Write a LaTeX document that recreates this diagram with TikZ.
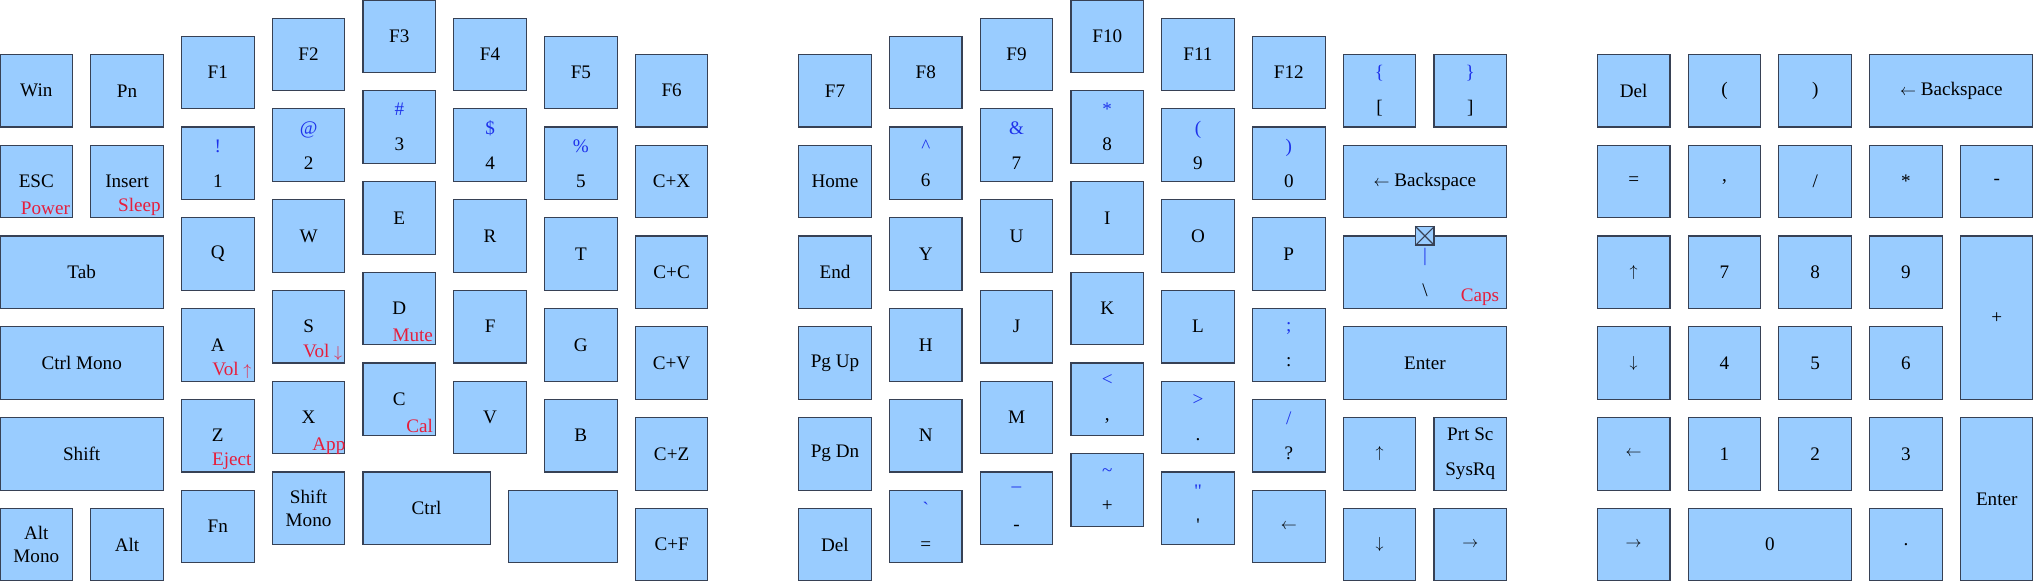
\documentclass[tikz,border=0pt]{standalone}
\usepackage{fontspec}
\setmainfont{Liberation Serif}
\definecolor{keyfill}{RGB}{153,204,255}
\definecolor{keyedge}{RGB}{55,65,85}
\definecolor{shiftblue}{RGB}{30,50,235}
\definecolor{fnred}{RGB}{230,30,60}
\newcommand{\upkey}[1]{\textcolor{shiftblue}{#1}}
\newcommand{\keyarrow}[1]{{\fontsize{10}{12}\selectfont$#1$}}

\begin{document}
\begin{tikzpicture}
		[x=2cm, y=-2cm,
		key/.style ={rectangle, draw=keyedge, line width=0.7pt, fill=keyfill, minimum width=1.6cm, minimum height=1.6cm, inner sep=0pt, outer sep=0pt, align=center, font=\fontsize{12}{14.4}\selectfont},
		widekey/.style = {key, minimum width=3.6cm},
		ctrlkey/.style = {key, minimum width=2.8cm},
		spacekey/.style = {key, minimum width=2.4cm},
		tallkey/.style = {key, minimum height=3.6cm},
		fnlabel/.style = {anchor=south east, inner sep=1.5pt, text=fnred, font=\fontsize{12}{14.4}\selectfont},
		markbox/.style = {rectangle, draw=keyedge, line width=0.7pt, fill=keyfill, minimum size=0.4cm, inner sep=0pt},
		]
		\useasboundingbox (0,0) rectangle (22.4,6.4);

		% left half
		\draw (0.4,1.0) node[key] (Win) {Win};
		\draw (1.4,1.0) node[key] (Pn) {Pn};
		\draw (0.4,2.0) node[key] (Esc) {ESC};
		\draw (1.4,2.0) node[key] (Insert) {Insert};
		\draw (0.9,3.0) node[widekey] (Tab) {Tab};
		\draw (0.9,4.0) node[widekey] (CtrlMono) {Ctrl Mono};
		\draw (0.9,5.0) node[widekey] (LShift) {Shift};
		\draw (0.4,6.0) node[key] (AltMono) {Alt\\Mono};
		\draw (1.4,6.0) node[key] (LAlt) {Alt};

		\draw (2.4,0.8) node[key] (F1) {F1};
		\draw (2.4,1.8) node[key] (K1) {\upkey{!}\\[7.5pt]1};
		\draw (2.4,2.8) node[key] (Q) {Q};
		\draw (2.4,3.8) node[key] (A) {A};
		\draw (2.4,4.8) node[key] (Z) {Z};
		\draw (2.4,5.8) node[key] (Fn) {Fn};

		\draw (3.4,0.6) node[key] (F2) {F2};
		\draw (3.4,1.6) node[key] (K2) {\upkey{@}\\[7.5pt]2};
		\draw (3.4,2.6) node[key] (W) {W};
		\draw (3.4,3.6) node[key] (S) {S};
		\draw (3.4,4.6) node[key] (X) {X};
		\draw (3.4,5.6) node[key] (ShiftMono) {Shift\\Mono};

		\draw (4.4,0.4) node[key] (F3) {F3};
		\draw (4.4,1.4) node[key] (K3) {\upkey{\#}\\[7.5pt]3};
		\draw (4.4,2.4) node[key] (E) {E};
		\draw (4.4,3.4) node[key] (D) {D};
		\draw (4.4,4.4) node[key] (C) {C};
		\draw (4.7,5.6) node[ctrlkey] (LCtrl) {Ctrl};

		\draw (5.4,0.6) node[key] (F4) {F4};
		\draw (5.4,1.6) node[key] (K4) {\upkey{\$}\\[7.5pt]4};
		\draw (5.4,2.6) node[key] (R) {R};
		\draw (5.4,3.6) node[key] (F) {F};
		\draw (5.4,4.6) node[key] (V) {V};

		\draw (6.4,0.8) node[key] (F5) {F5};
		\draw (6.4,1.8) node[key] (K5) {\upkey{\%}\\[7.5pt]5};
		\draw (6.4,2.8) node[key] (T) {T};
		\draw (6.4,3.8) node[key] (G) {G};
		\draw (6.4,4.8) node[key] (B) {B};
		\draw (6.2,5.8) node[spacekey] (Blank) {};

		\draw (7.4,1.0) node[key] (F6) {F6};
		\draw (7.4,2.0) node[key] (CX) {C+X};
		\draw (7.4,3.0) node[key] (CC) {C+C};
		\draw (7.4,4.0) node[key] (CV) {C+V};
		\draw (7.4,5.0) node[key] (CZ) {C+Z};
		\draw (7.4,6.0) node[key] (CF) {C+F};

		\draw (Esc.south east) node[fnlabel] (Power) {Power};
		\draw (Insert.south east) node[fnlabel] (Sleep) {Sleep};
		\draw (A.south east) node[fnlabel] (VolUp) {Vol \keyarrow{\uparrow}};
		\draw (S.south east) node[fnlabel] (VolDown) {Vol \keyarrow{\downarrow}};
		\draw (Z.south east) node[fnlabel] (Eject) {Eject};
		\draw ([xshift=2pt,yshift=-2pt]X.south east) node[fnlabel] (App) {App};
		\draw (D.south east) node[fnlabel] (Mute) {Mute};
		\draw (C.south east) node[fnlabel] (Cal) {Cal};

		% right half
		\draw (9.2,1.0) node[key] (F7) {F7};
		\draw (9.2,2.0) node[key] (Home) {Home};
		\draw (9.2,3.0) node[key] (End) {End};
		\draw (9.2,4.0) node[key] (PgUp) {Pg Up};
		\draw (9.2,5.0) node[key] (PgDn) {Pg Dn};
		\draw (9.2,6.0) node[key] (RDel) {Del};

		\draw (10.2,0.8) node[key] (F8) {F8};
		\draw (10.2,1.8) node[key] (K6) {\upkey{\textasciicircum}\\[7.5pt]6};
		\draw (10.2,2.8) node[key] (Y) {Y};
		\draw (10.2,3.8) node[key] (H) {H};
		\draw (10.2,4.8) node[key] (N) {N};
		\draw (10.2,5.8) node[key] (Grave) {\upkey{\textasciigrave}\\[7.5pt]=};

		\draw (11.2,0.6) node[key] (F9) {F9};
		\draw (11.2,1.6) node[key] (K7) {\upkey{\&}\\[7.5pt]7};
		\draw (11.2,2.6) node[key] (U) {U};
		\draw (11.2,3.6) node[key] (J) {J};
		\draw (11.2,4.6) node[key] (M) {M};
		\draw (11.2,5.6) node[key] (Minus) {\upkey{\raisebox{1.1ex}{\_}}\\[7.5pt]-};

		\draw (12.2,0.4) node[key] (F10) {F10};
		\draw (12.2,1.4) node[key] (K8) {\upkey{*}\\[7.5pt]8};
		\draw (12.2,2.4) node[key] (I) {I};
		\draw (12.2,3.4) node[key] (K) {K};
		\draw (12.2,4.4) node[key] (Comma) {\upkey{<}\\[7.5pt],};
		\draw (12.2,5.4) node[key] (Plus) {\upkey{\textasciitilde}\\[7.5pt]+};

		\draw (13.2,0.6) node[key] (F11) {F11};
		\draw (13.2,1.6) node[key] (K9) {\upkey{(}\\[7.5pt]9};
		\draw (13.2,2.6) node[key] (O) {O};
		\draw (13.2,3.6) node[key] (L) {L};
		\draw (13.2,4.6) node[key] (Period) {\upkey{>}\\[7.5pt].};
		\draw (13.2,5.6) node[key] (Quote) {\upkey{\textquotedbl}\\[7.5pt]\textquotesingle};

		\draw (14.2,0.8) node[key] (F12) {F12};
		\draw (14.2,1.8) node[key] (K0) {\upkey{)}\\[7.5pt]0};
		\draw (14.2,2.8) node[key] (P) {P};
		\draw (14.2,3.8) node[key] (Semi) {\upkey{;}\\[7.5pt]:};
		\draw (14.2,4.8) node[key] (Slash) {\upkey{/}\\[7.5pt]?};
		\draw (14.2,5.8) node[key] (LeftArr) {\keyarrow{\leftarrow}};

		\draw (15.2,1.0) node[key] (LBrace) {\upkey{\{}\\[7.5pt][};
		\draw (16.2,1.0) node[key] (RBrace) {\upkey{\}}\\[7.5pt]]};
		\draw (15.7,2.0) node[widekey] (Bksp) {\keyarrow{\leftarrow} Backspace};
		\draw (15.7,3.0) node[widekey] (Bsl) {\upkey{\textbar}\\[7.5pt]\textbackslash};
		\draw (15.7,4.0) node[widekey] (Enter) {Enter};
		\draw (15.2,5.0) node[key] (UpArr) {\keyarrow{\uparrow}};
		\draw (16.2,5.0) node[key] (PrtSc) {Prt Sc\\[7.5pt]SysRq};
		\draw (15.2,6.0) node[key] (DownArr) {\keyarrow{\downarrow}};
		\draw (16.2,6.0) node[key] (RightArr) {\keyarrow{\rightarrow}};

		\draw (Bsl.north) node[markbox] (Mark) {};
		\draw[keyedge, line width=0.7pt] (Mark.north west) -- (Mark.south east) (Mark.north east) -- (Mark.south west);
		\draw ([xshift=-3pt]Bsl.south east) node[fnlabel] (Caps) {Caps};

		% numpad
		\draw (18.0,1.0) node[key] (NDel) {Del};
		\draw (19.0,1.0) node[key] (NLParen) {(};
		\draw (20.0,1.0) node[key] (NRParen) {)};
		\draw (21.5,1.0) node[widekey] (NBksp) {\keyarrow{\leftarrow} Backspace};
		\draw (18.0,2.0) node[key] (NEq) {=};
		\draw (19.0,2.0) node[key] (NComma) {,};
		\draw (20.0,2.0) node[key] (NSlash) {/};
		\draw (21.0,2.0) node[key] (NStar) {*};
		\draw (22.0,2.0) node[key] (NMinus) {-};
		\draw (18.0,3.0) node[key] (NUp) {\keyarrow{\uparrow}};
		\draw (19.0,3.0) node[key] (N7) {7};
		\draw (20.0,3.0) node[key] (N8) {8};
		\draw (21.0,3.0) node[key] (N9) {9};
		\draw (22.0,3.5) node[tallkey] (NPlus) {+};
		\draw (18.0,4.0) node[key] (NDown) {\keyarrow{\downarrow}};
		\draw (19.0,4.0) node[key] (N4) {4};
		\draw (20.0,4.0) node[key] (N5) {5};
		\draw (21.0,4.0) node[key] (N6) {6};
		\draw (18.0,5.0) node[key] (NLeft) {\keyarrow{\leftarrow}};
		\draw (19.0,5.0) node[key] (N1) {1};
		\draw (20.0,5.0) node[key] (N2) {2};
		\draw (21.0,5.0) node[key] (N3) {3};
		\draw (22.0,5.5) node[tallkey] (NEnter) {Enter};
		\draw (18.0,6.0) node[key] (NRight) {\keyarrow{\rightarrow}};
		\draw (19.5,6.0) node[widekey] (N0) {0};
		\draw (21.0,6.0) node[key] (NDot) {.};
	\end{tikzpicture}
\end{document}
